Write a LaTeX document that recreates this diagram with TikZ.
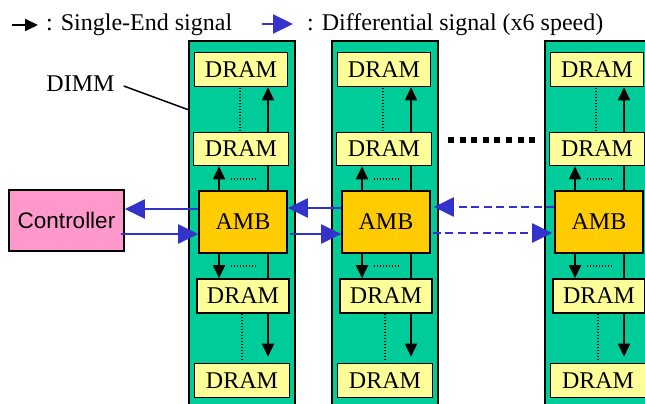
\documentclass[tikz,border=0pt]{standalone}
\usepackage{fontspec}
\setmainfont{Liberation Serif}
\newfontfamily\arialfont{Liberation Sans}
\usetikzlibrary{arrows.meta,calc}
\definecolor{dimmgreen}{RGB}{0,204,153}
\definecolor{dramyellow}{RGB}{255,255,153}
\definecolor{ambgold}{RGB}{255,204,0}
\definecolor{ctrlpink}{RGB}{255,153,204}
\definecolor{sigblue}{RGB}{51,51,204}
\tikzset{
  dimmbox/.style={draw=black,line width=2pt,fill=dimmgreen},
  drambox/.style={draw=black,line width=1.6pt,fill=dramyellow,inner sep=0pt,
    minimum width=93pt,minimum height=34pt,font=\fontsize{24}{28}\selectfont},
  ambbox/.style={draw=black,line width=1.6pt,fill=ambgold,inner sep=0pt,
    minimum width=88pt,minimum height=62pt,font=\fontsize{24}{28}\selectfont},
  ctrlbox/.style={draw=black,line width=1.6pt,fill=ctrlpink,inner sep=0pt,
    minimum width=115pt,minimum height=61pt,font=\arialfont\fontsize{22.5}{26}\selectfont},
  blackarr/.style={draw=black,line width=1.8pt,-{Triangle[length=13pt,width=12pt]}},
  blackline/.style={draw=black,line width=1.8pt},
  dotline/.style={draw=black,line width=1.3pt,dash pattern=on 1.3pt off 1.7pt},
  bluearr/.style={draw=sigblue,line width=2pt,-{Triangle[length=20pt,width=19pt]}},
  bluedash/.style={draw=sigblue,line width=2pt,dash pattern=on 8pt off 4.5pt,-{Triangle[length=20pt,width=19pt]}},
  txt/.style={inner sep=0pt,font=\fontsize{24}{28}\selectfont},
}
\begin{document}
\begin{tikzpicture}[x=1pt,y=-1pt]
\clip (0,0) rectangle (645,404);
\fill[white] (0,0) rectangle (645,404);

% legend
\coordinate (lgA1) at (12,25);
\coordinate (lgA2) at (38,25);
\draw[blackarr] (lgA1) -- (lgA2);
\node[txt,anchor=base west] (lgT1) at (46,31) {: Single-End signal};
\coordinate (lgB1) at (262,24);
\coordinate (lgB2) at (293,24);
\draw[bluearr] (lgB1) -- (lgB2);
\node[txt,anchor=base west] (lgT2) at (307,31) {: Differential signal (x6 speed)};

% DIMMs
\foreach \i/\L in {1/189,2/332,3/545}{
  \path[dimmbox] (\L,41) rectangle (\L+106,420);
  \node[drambox] (da\i) at (\L+52,69.5) {DRAM};
  \node[drambox,minimum width=95pt,minimum height=33pt] (db\i) at (\L+52,149) {DRAM};
  \node[ambbox] (amb\i) at (\L+54,222) {AMB};
  \node[drambox,minimum width=92pt] (dc\i) at (\L+54,296) {DRAM};
  \node[drambox,minimum width=95pt] (dd\i) at (\L+53,380.5) {DRAM};
  % left arrows
  \coordinate (lx\i) at (\L+30,0);
  \coordinate (rx\i) at (\L+79,0);
  \draw[blackarr] (amb\i.north -| lx\i) -- (db\i.south -| lx\i);
  \draw[blackarr] (amb\i.south -| lx\i) -- (dc\i.north -| lx\i);
  % right lines
  \draw[blackline] (amb\i.north -| rx\i) -- (db\i.south -| rx\i);
  \draw[blackarr] (db\i.north -| rx\i) -- (da\i.south -| rx\i);
  \draw[blackline] (amb\i.south -| rx\i) -- (dc\i.north -| rx\i);
  \coordinate (ae\i) at ($(dd\i.north -| rx\i)+(0,-6)$);
  \draw[blackarr] (dc\i.south -| rx\i) -- (ae\i);
  % dotted lines
  \coordinate (du1\i) at (\L+51,88);
  \coordinate (du2\i) at (\L+51,131);
  \draw[dotline] (du1\i) -- (du2\i);
  \coordinate (dl1\i) at (\L+53,314);
  \coordinate (dl2\i) at (\L+53,360);
  \draw[dotline] (dl1\i) -- (dl2\i);
  \coordinate (dh1\i) at (\L+42,179);
  \coordinate (dh2\i) at (\L+67,179);
  \draw[dotline] (dh1\i) -- (dh2\i);
  \coordinate (dh3\i) at (\L+42,266);
  \coordinate (dh4\i) at (\L+68,266);
  \draw[dotline] (dh3\i) -- (dh4\i);
}

% controller
\node[ctrlbox] (ctrl) at (66.5,220.5) {Controller};

% DIMM label
\node[txt] (dimmlbl) at (80.5,84) {DIMM};
\coordinate (dimmpt) at (189,110);
\draw[black,line width=1.5pt] ($(dimmlbl.east)+(9,2)$) -- (dimmpt);

% ellipsis
\coordinate (el1) at (448,140);
\coordinate (el2) at (536,140);
\draw[black,line width=5.5pt,dash pattern=on 6pt off 5.6pt] (el1) -- (el2);

% signal rows
\coordinate (rowU) at (0,209);
\coordinate (rowD) at (0,234);
\coordinate (rowU2) at (0,208);
\coordinate (rowU3) at (0,207);
\coordinate (rowD3) at (0,233);
\draw[bluearr] (amb1.west |- rowU) -- (ctrl.east |- rowU);
\draw[bluearr] ([xshift=-4pt]ctrl.east |- rowD) -- (amb1.west |- rowD);
\draw[bluearr] (amb2.west |- rowU2) -- (amb1.east |- rowU2);
\draw[bluearr] ([xshift=2pt]amb1.east |- rowD) -- (amb2.west |- rowD);
\draw[bluedash] (amb3.west |- rowU3) -- ([xshift=3pt]amb2.east |- rowU3);
\draw[bluedash] ([xshift=2pt]amb2.east |- rowD3) -- ([xshift=-2pt]amb3.west |- rowD3);
\end{tikzpicture}
\end{document}
